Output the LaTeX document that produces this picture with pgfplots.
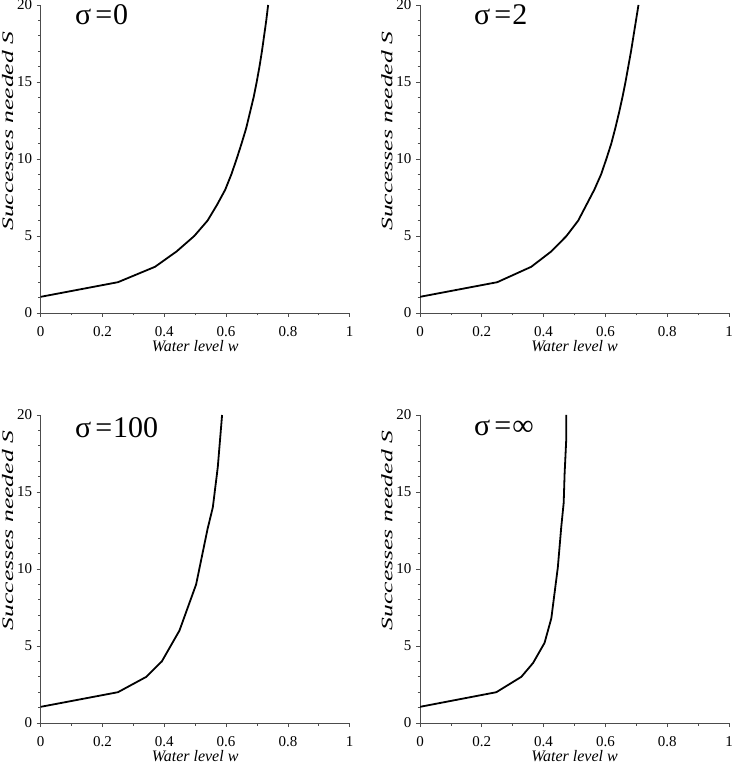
\documentclass[border=0pt]{standalone}
\usepackage{fontspec}
\setmainfont{Liberation Serif}
\usepackage{pgfplots}
\pgfplotsset{compat=1.18}
\pgfplotsset{
  panel/.style={
    scale only axis,
    width=309pt, height=308pt,
    xmin=0, xmax=1, ymin=0, ymax=20,
    axis lines*=left,
    axis line style={draw=black!70, line width=0.8pt},
    xtick={0,0.2,0.4,0.6,0.8,1},
    ytick={0,5,10,15,20},
    minor x tick num=1,
    minor y tick num=4,
    tick align=outside,
    major tick length=4pt,
    minor tick length=2.5pt,
    tick style={draw=black!70, line width=0.8pt},
    /pgf/number format/assume math mode=true,
    ticklabel style={font=\fontsize{15}{17}\selectfont},
    xticklabel style={anchor=center, yshift=-15pt},
    yticklabel style={anchor=east, xshift=-1pt},
    xlabel={\itshape Water level w},
    ylabel={\scalebox{1.6}[1]{\itshape Successes needed S}},
    label style={font=\fontsize{16}{18}\selectfont},
    xlabel style={at={(axis description cs:0.5,0)}, anchor=center, yshift=-33pt},
    clip=true,
  },
  curve/.style={black, line width=1.8pt, no marks},
}
\newcommand{\ttl}[1]{\fontsize{30}{32}\selectfont #1}
\begin{document}
\begin{tikzpicture}[x=1pt,y=1pt]
\path[use as bounding box] (0,0) rectangle (731,762);
% top-left
\begin{axis}[panel, at={(40.7pt,449pt)}, anchor=south west,
  ylabel style={at={(axis description cs:0,0.59)}, anchor=center, yshift=33pt}]
\addplot[curve] coordinates {(0,1.05) (0.25,2) (0.37,3) (0.44,4) (0.497,5) (0.54,6) (0.57,7) (0.597,8) (0.617,9) (0.634,10) (0.65,11) (0.665,12) (0.677,13) (0.689,14) (0.699,15) (0.708,16) (0.716,17) (0.723,18) (0.73,19) (0.736,20)};
\node[anchor=west] at (axis description cs:0.1,0.967) {\ttl{σ\kern4pt=\kern1pt0}};
\end{axis}
% top-right
\begin{axis}[panel, at={(420pt,449pt)}, anchor=south west,
  ylabel style={at={(axis description cs:0,0.59)}, anchor=center, yshift=33pt}]
\addplot[curve] coordinates {(0,1.05) (0.25,2) (0.36,3) (0.425,4) (0.474,5) (0.512,6) (0.538,7) (0.564,8) (0.586,9) (0.603,10) (0.619,11) (0.632,12) (0.644,13) (0.655,14) (0.665,15) (0.674,16) (0.683,17) (0.691,18) (0.699,19) (0.707,20)};
\node[anchor=west] at (axis description cs:0.164,0.967) {\ttl{σ\kern4pt=\kern1pt2}};
\end{axis}
% bottom-left
\begin{axis}[panel, at={(40.7pt,39pt)}, anchor=south west,
  ylabel style={at={(axis description cs:0,0.625)}, anchor=center, yshift=33pt}]
\addplot[curve] coordinates {(0,1.05) (0.25,2) (0.342,3) (0.392,4) (0.449,6) (0.503,9) (0.54,12.6) (0.557,14) (0.573,16.6) (0.587,20)};
\node[anchor=west] at (axis description cs:0.1,0.958) {\ttl{σ\kern4pt=\kern1pt100}};
\end{axis}
% bottom-right
\begin{axis}[panel, at={(420pt,39pt)}, anchor=south west,
  ylabel style={at={(axis description cs:0,0.625)}, anchor=center, yshift=33pt}]
\addplot[curve] coordinates {(0,1.05) (0.247,2) (0.328,3) (0.366,3.9) (0.403,5.2) (0.425,6.8) (0.446,10.1) (0.457,12.7) (0.465,14.3) (0.468,16.2) (0.473,18.3) (0.473,20)};
\node[anchor=west] at (axis description cs:0.164,0.958) {\ttl{σ\kern4pt=\kern1pt∞}};
\end{axis}
\end{tikzpicture}
\end{document}
